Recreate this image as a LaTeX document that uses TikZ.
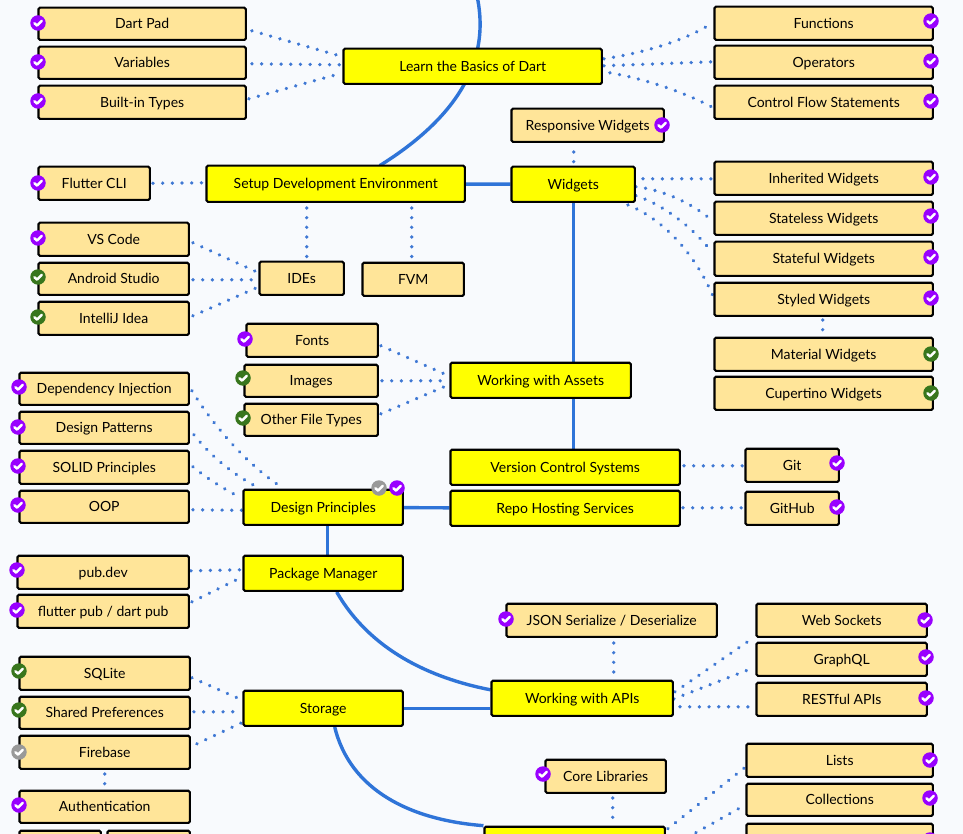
\documentclass[tikz,border=0pt]{standalone}
\usepackage{fontspec}
\usetikzlibrary{calc,decorations.markings}
\setmainfont{Lato}
\definecolor{pagebg}{HTML}{F8FAFD}
\definecolor{topicfill}{HTML}{FFFF00}
\definecolor{subfill}{HTML}{FFE599}
\definecolor{linkblue}{HTML}{2F74D8}
\definecolor{dotblue}{HTML}{3F78D4}
\definecolor{badgepurple}{HTML}{9900FF}
\definecolor{badgegreen}{HTML}{38761D}
\definecolor{badgegrey}{HTML}{999999}
\tikzset{
  boxbase/.style={draw=black,line width=2.1pt,rounded corners=1.5pt,inner sep=0pt,text=black,text height=10pt,text depth=0pt,font=\fontsize{14}{16}\selectfont},
  topic/.style={boxbase,fill=topicfill},
  sub/.style={boxbase,fill=subfill},
  thick link/.style={draw=linkblue,line width=3.4pt},
  dotlink/.style={postaction=decorate,decoration={markings,mark=between positions 0 and 1 step 9.7pt with {\fill[dotblue] (0,0) circle (1.85pt);}}},
  badge/.style={circle,fill=#1,minimum size=15.5pt,inner sep=0pt,
    path picture={\draw[white,line width=2.5pt,line cap=round,line join=round]
      (path picture bounding box.center) ++(-3.6,0.2) -- ++(2.6,2.4) -- ++(4.8,-4.8);}},
}
\pgfdeclarelayer{canvas}\pgfdeclarelayer{back}\pgfsetlayers{canvas,back,main}
\newcommand{\bx}[7][]{%
  \pgfmathsetmacro{\cxv}{(#4+#6)/2-0.3}\pgfmathsetmacro{\cyv}{(#5+#7)/2-0.2}%
  \pgfmathsetmacro{\wv}{#6-#4-1.6}\pgfmathsetmacro{\hv}{#7-#5-1.8}%
  \node[#2,minimum width=\wv pt,minimum height=\hv pt] (#3) at (\cxv,\cyv) {#1};}
\newcommand{\dl}[4]{\path[dotlink] ($(#1)+(#2)$) -- ($(#3)+(#4)$);}
\newcommand{\dc}[6]{\path[dotlink] ($(#1)+(#2)$) .. controls (#5) and (#6) .. ($(#3)+(#4)$);}
\begin{document}
\begin{tikzpicture}[x=1pt,y=-1pt]
\begin{pgfonlayer}{canvas}
\fill[pagebg] (0,0) rectangle (963,834);
\end{pgfonlayer}
\useasboundingbox (0,0) rectangle (963,834);
\clip (0,0) rectangle (963,834);
% topics
\bx[Learn the Basics of Dart]{topic}{learn}{343}{48}{603}{85}
\bx[Setup Development Environment]{topic}{setup}{206}{165}{466}{203}
\bx[Widgets]{topic}{widgets}{511}{166}{636}{203}
\bx[Working with Assets]{topic}{assets}{450}{362}{632}{399}
\bx[Version Control Systems]{topic}{vcs}{450}{449}{681}{486}
\bx[Repo Hosting Services]{topic}{repo}{450}{490}{681}{527}
\bx[Design Principles]{topic}{design}{243}{489}{404}{526}
\bx[Package Manager]{topic}{pkg}{243}{555}{404}{592}
\bx[Working with APIs]{topic}{apis}{491}{680}{674}{717}
\bx[Storage]{topic}{storage}{243}{690}{404}{727}
\bx[]{topic}{corebox}{484}{826}{666}{863}
% subtopics
\bx[Dart Pad]{sub}{dartpad}{38}{7}{247}{41}
\bx[Variables]{sub}{variables}{38}{46}{247}{80}
\bx[Built-in Types]{sub}{builtin}{38}{85}{247}{120}
\bx[Functions]{sub}{functions}{714}{6}{934}{41}
\bx[Operators]{sub}{operators}{714}{45}{934}{80}
\bx[Control Flow Statements]{sub}{control}{714}{85}{934}{120}
\bx[Responsive Widgets]{sub}{responsive}{511}{108}{665}{143}
\bx[Flutter CLI]{sub}{cli}{38}{166}{151}{201}
\bx[Inherited Widgets]{sub}{inherited}{714}{161}{934}{196}
\bx[Stateless Widgets]{sub}{stateless}{714}{201}{934}{236}
\bx[Stateful Widgets]{sub}{stateful}{714}{241}{934}{277}
\bx[Styled Widgets]{sub}{styled}{714}{282}{934}{317}
\bx[Material Widgets]{sub}{material}{714}{337}{934}{372}
\bx[Cupertino Widgets]{sub}{cupertino}{714}{376}{934}{411}
\bx[VS Code]{sub}{vscode}{38}{222}{190}{257}
\bx[Android Studio]{sub}{android}{38}{262}{190}{296}
\bx[IntelliJ Idea]{sub}{intellij}{38}{301}{190}{336}
\bx[IDEs]{sub}{ides}{259}{261}{345}{296}
\bx[FVM]{sub}{fvm}{362}{262}{465}{297}
\bx[Fonts]{sub}{fonts}{246}{323}{379}{358}
\bx[Images]{sub}{images}{244}{364}{379}{398}
\bx[Other File Types]{sub}{otherfiles}{244}{403}{379}{437}
\bx[Dependency Injection]{sub}{di}{19}{372}{190}{406}
\bx[Design Patterns]{sub}{patterns}{19}{411}{190}{445}
\bx[SOLID Principles]{sub}{solid}{19}{450}{190}{485}
\bx[OOP]{sub}{oop}{19}{490}{190}{524}
\bx[Git]{sub}{git}{745}{448}{840}{483}
\bx[GitHub]{sub}{github}{745}{491}{840}{526}
\bx[pub.dev]{sub}{pubdev}{17}{555}{190}{590}
\bx[flutter pub / dart pub]{sub}{flutterpub}{17}{594}{190}{629}
\bx[JSON Serialize / Deserialize]{sub}{json}{506}{603}{718}{638}
\bx[Web Sockets]{sub}{websockets}{756}{603}{928}{638}
\bx[GraphQL]{sub}{graphql}{756}{642}{928}{677}
\bx[RESTful APIs]{sub}{restful}{756}{682}{928}{717}
\bx[SQLite]{sub}{sqlite}{19}{656}{191}{691}
\bx[Shared Preferences]{sub}{shared}{19}{696}{191}{730}
\bx[Firebase]{sub}{firebase}{19}{735}{191}{770}
\bx[Authentication]{sub}{auth}{19}{790}{191}{824}
\bx[]{sub}{authleft}{19}{830}{102}{865}
\bx[]{sub}{authright}{107}{830}{191}{865}
\bx[Core Libraries]{sub}{core}{545}{759}{667}{794}
\bx[Lists]{sub}{lists}{746}{743}{934}{778}
\bx[Collections]{sub}{collections}{746}{783}{934}{817}
\bx[]{sub}{thirdlib}{746}{823}{934}{858}
% badges
\foreach \nm/\bxx/\byy in {b1/38/23,b2/38/62,b3/38/101,b4/931/21,b5/931/61,b6/931/101,b7/662/125,b8/38/183,b9/931/177,b10/931/216,b11/931/257,b12/931/298,b13/38/238,b14/245/339,b15/19/387,b16/18/427,b17/18/466,b18/18/505,b19/397/488,b20/837/463,b21/837/507,b22/17/570,b23/17/610,b24/506/619,b25/925/620,b26/926/657,b27/926/698,b28/19/805,b29/543/774,b30/930/760,b31/930/798,b32/930/840}
  {\node[badge=badgepurple] (\nm) at (\bxx,\byy) {};}
\foreach \nm/\bxx/\byy in {g1/931/354,g2/931/393,g3/38/277,g4/38/317,g5/243/378,g6/243/418,g7/19/671,g8/19/710}
  {\node[badge=badgegreen] (\nm) at (\bxx,\byy) {};}
\foreach \nm/\bxx/\byy in {k1/379/488,k2/19/752}
  {\node[badge=badgegrey] (\nm) at (\bxx,\byy) {};}
\coordinate (topexit) at (477,-4);
\begin{pgfonlayer}{back}
% thick links
\draw[thick link] (topexit) .. controls (493,70) and (445,125) .. ($(setup.north)+(44,1)$);
\draw[thick link] (setup) -- (widgets);
\draw[thick link] (widgets) -- (vcs.north -| widgets);
\draw[thick link] (design) -- (repo);
\draw[thick link] ($(design.south)+(4.5,0)$) -- ($(pkg.north)+(4.5,0)$);
\draw[thick link] ($(pkg.south)+(13.5,0)$) .. controls (370,650) and (430,678) .. ($(apis.west)+(0,-8.5)$);
\draw[thick link] (storage) -- (apis.west |- storage);
\draw[thick link] ($(storage.south)+(11.5,0)$) .. controls (350,790) and (410,820) .. (corebox.north west);
% dotted links
\dl{dartpad.east}{5,7}{learn.west}{-3,-10.5}
\dl{variables.east}{5,1}{learn.west}{-2,-1.5}
\dl{builtin.east}{2,-3.5}{learn.west}{-3,7.5}
\dc{learn.east}{1,-7.5}{functions.west}{-1,-0.5}{650,52}{690,38}
\dl{learn.east}{1,-0.5}{operators.west}{-1,-0.5}
\dc{learn.east}{7,6.5}{control.west}{-2,4.5}{640,78}{680,90}
\dl{widgets.north}{0.5,-4}{responsive.south}{-14,7}
\dl{cli.east}{2,0}{setup.west}{-3,-1}
\dl{setup.south}{-29,5}{ides.north}{5,-1}
\dl{setup.south}{76,5}{fvm.north}{-1.5,-1}
\dl{vscode.east}{3,3.5}{ides.west}{-2,-6.5}
\dl{android.east}{3,1}{ides.west}{-2,1.5}
\dl{intellij.east}{3,-2.5}{ides.west}{-2,9.5}
\dl{widgets.east}{7,-5.5}{inherited.west}{-1,0.5}
\dc{widgets.east}{0,2.5}{stateless.west}{0,3.5}{665,190}{695,205}
\dc{widgets.east}{0,11.5}{stateful.west}{-1,-6}{665,205}{695,230}
\dc{widgets.south east}{-8,2}{styled.west}{-1,-4.5}{665,220}{695,255}
\dl{styled.south}{-1,3}{material.north}{-1,-4}
\dl{fonts.east}{2,5.5}{assets.west}{-3,-5.5}
\dl{images.east}{3,0}{assets.west}{-3,0.5}
\dl{otherfiles.east}{2,-6}{assets.west}{-3,5.5}
\dc{di.east}{2,2}{design.north west}{34,-5}{210,420}{240,458}
\dc{patterns.east}{4,7}{design.north west}{12,-3}{210,455}{230,472}
\dc{solid.east}{3,-0.5}{design.west}{-1,-9.5}{205,477}{225,490}
\dl{oop.east}{3,3}{design.west}{-1,3}
\dl{vcs.east}{3,-1.5}{git.west}{-2,0.5}
\dl{repo.east}{2,-0.5}{github.west}{-2,-0.5}
\dl{pubdev.east}{1,-1.5}{pkg.west}{-2,-3.5}
\dl{flutterpub.east}{2,-9.5}{pkg.west}{-2,4.5}
\dl{json.south}{2,5}{apis.north}{31.5,-3}
\dl{apis.east}{1,-6.5}{websockets.south west}{-1,-1}
\dl{apis.east}{0,0.5}{graphql.west}{-2,8.5}
\dl{apis.east}{6,8.5}{restful.west}{-5,7.5}
\dl{sqlite.east}{1,4.5}{storage.west}{-3,-9.5}
\dl{shared.east}{3,-1}{storage.west}{-3,3.5}
\dl{firebase.east}{6,-8.5}{storage.west}{-1,14.5}
\dl{firebase.south}{0,4}{auth.north}{0,-3}
\dl{core.south}{7,4}{corebox.north}{38,-4}
\dl{corebox.north east}{2,3}{lists.west}{-1,7.5}
\dl{corebox.north east}{30,7}{collections.west}{0,5}
\end{pgfonlayer}
\end{tikzpicture}
\end{document}
